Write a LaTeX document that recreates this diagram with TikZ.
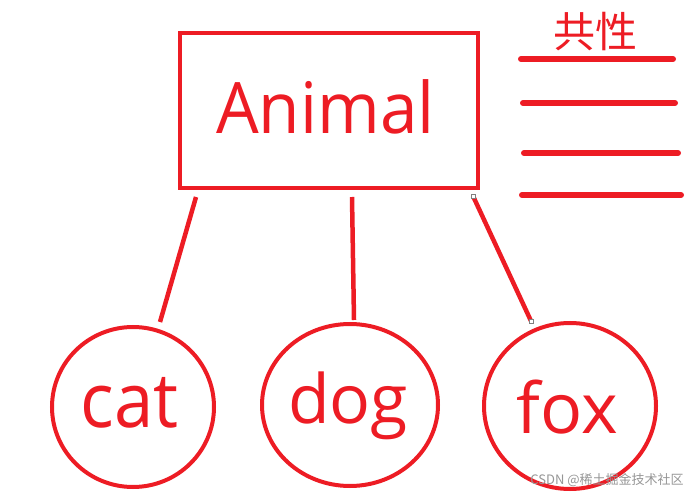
\documentclass[tikz,border=0pt]{standalone}
\usepackage{fontspec}
\setmainfont{Open Sans}
\newfontfamily\cjk{Noto Sans CJK SC}
\definecolor{paintred}{RGB}{237,28,36}
\definecolor{wmgray}{RGB}{150,150,150}
\begin{document}
\begin{tikzpicture}[x=1pt,y=-1pt,
  redline/.style={draw=paintred,line width=4pt},
  conn/.style={draw=paintred,line width=4.5pt},
  listline/.style={draw=paintred,line width=6pt,line cap=round},
  circ/.style={draw=paintred,line width=4pt,ellipse,inner sep=0pt},
  lbl/.style={text=paintred,anchor=base,inner sep=0pt},
  handle/.style={draw=gray,fill=white,line width=0.6pt,inner sep=0pt,minimum size=4pt}
]
\useasboundingbox (0,0) rectangle (696,502);
% parent box
\node[draw=paintred,line width=4pt,minimum width=298pt,minimum height=155pt,inner sep=0pt] (animal) at (329,110.5) {};
\node[lbl,font=\fontsize{71}{80}\selectfont,xscale=0.95] (animaltext) at (325.5,134) {Animal};
% children
\draw[draw=paintred,line width=4pt] (133,407) ellipse [x radius=81, y radius=80];
\coordinate (catc) at (133,407);
\draw[draw=paintred,line width=4pt] (350,405) ellipse [x radius=88, y radius=81];
\coordinate (dogc) at (350,405);
\draw[draw=paintred,line width=4pt] (570,406) ellipse [x radius=86, y radius=83];
\coordinate (foxc) at (570,406);
\node[lbl,font=\fontsize{76}{84}\selectfont,xscale=0.93] (cat) at (129.5,428) {cat};
\node[lbl,font=\fontsize{68}{76}\selectfont] (dog) at (348,423) {dog};
\node[lbl,font=\fontsize{70}{78}\selectfont] (fox) at (567.5,433) {fox};
% connectors
\coordinate (a1) at (196,197);
\coordinate (b1) at (160,322);
\coordinate (a2) at (352,197);
\coordinate (b2) at (354,320);
\coordinate (a3) at (473,196);
\coordinate (b3) at (531,321);
\draw[conn] (a1) -- (b1);
\draw[conn] (a2) -- (b2);
\draw[conn] (a3) -- (b3);
\node[handle] (h1) at (a3) {};
\node[handle] (h2) at (b3) {};
% common traits
\node[lbl,font=\cjk\fontsize{42}{48}\selectfont] (gx) at (595,48) {共性};
\coordinate (l1a) at (521,59);  \coordinate (l1b) at (673,59);
\coordinate (l2a) at (523,103); \coordinate (l2b) at (675,103);
\coordinate (l3a) at (524,153); \coordinate (l3b) at (678,153);
\coordinate (l4a) at (522,195); \coordinate (l4b) at (681,195);
\draw[listline] (l1a) -- (l1b);
\draw[listline] (l2a) -- (l2b);
\draw[listline] (l3a) -- (l3b);
\draw[listline] (l4a) -- (l4b);
% watermark
\node[text=wmgray,font=\cjk\fontsize{13}{15}\selectfont,inner sep=0pt] (wm) at (607,480) {CSDN @稀土掘金技术社区};
\end{tikzpicture}
\end{document}
